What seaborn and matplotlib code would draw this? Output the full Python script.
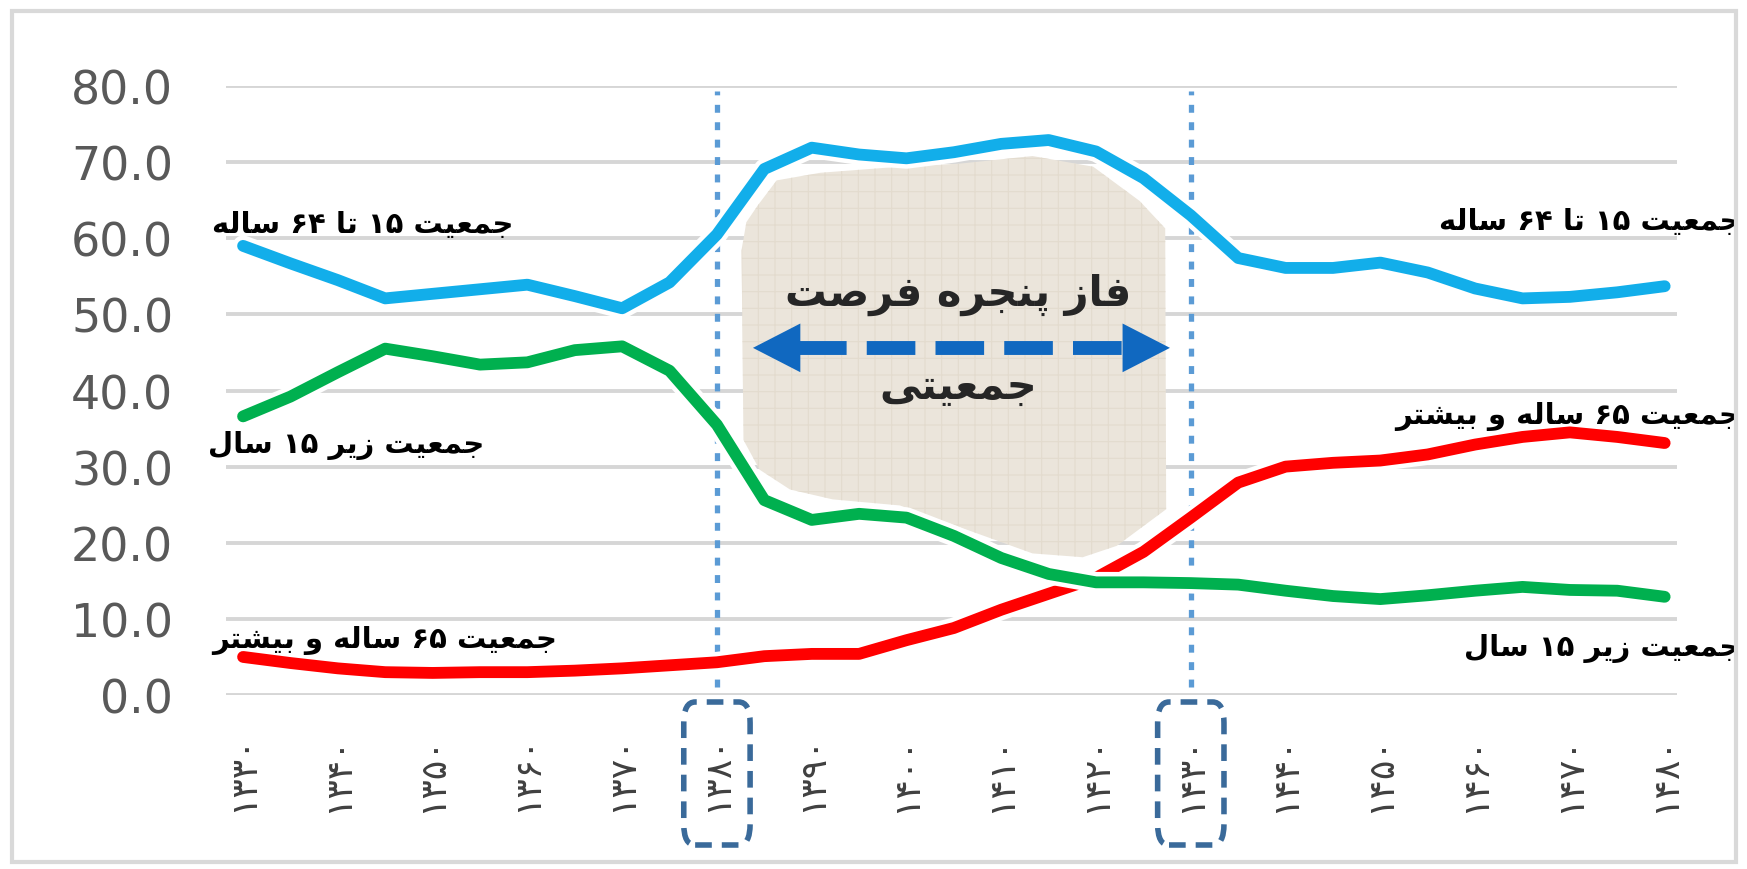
import matplotlib
matplotlib.use("Agg")
import matplotlib.pyplot as plt
import matplotlib.patheffects as pe
from matplotlib.patches import Polygon, FancyBboxPatch, Rectangle
import matplotlib.transforms as mtransforms
import seaborn as sns

# data, every 5 years
years = list(range(1330, 1485, 5))
age_15_64 = [59.0, 56.7, 54.5, 52.1, 52.7, 53.3, 53.9, 52.4, 50.8, 54.2, 60.5,
             69.1, 71.9, 71.0, 70.5, 71.3, 72.4, 72.9, 71.4, 67.9, 63.0,
             57.4, 56.1, 56.1, 56.8, 55.5, 53.4, 52.1, 52.3, 52.9, 53.7]
age_under_15 = [36.6, 39.2, 42.4, 45.5, 44.5, 43.4, 43.7, 45.3, 45.8, 42.6, 35.5,
                25.6, 23.0, 23.8, 23.3, 20.9, 18.0, 15.9, 14.8, 14.8, 14.7,
                14.5, 13.7, 13.0, 12.6, 13.1, 13.7, 14.2, 13.8, 13.7, 12.9]
age_65_plus = [5.0, 4.2, 3.5, 3.0, 2.9, 3.0, 3.0, 3.2, 3.5, 3.9, 4.3,
               5.1, 5.4, 5.4, 7.2, 8.8, 11.2, 13.3, 15.4, 18.8, 23.3,
               27.9, 30.0, 30.5, 30.8, 31.6, 32.9, 33.9, 34.5, 33.9, 33.1]

tick_years = list(range(1330, 1490, 10))
tick_labels = ["۱۳۳۰", "۱۳۴۰", "۱۳۵۰", "۱۳۶۰", "۱۳۷۰", "۱۳۸۰", "۱۳۹۰", "۱۴۰۰",
               "۱۴۱۰", "۱۴۲۰", "۱۴۳۰", "۱۴۴۰", "۱۴۵۰", "۱۴۶۰", "۱۴۷۰", "۱۴۸۰"]
window_years = [1380, 1430]

lbl_15_64 = "جمعیت ۱۵ تا ۶۴ ساله"
lbl_under_15 = "جمعیت زیر ۱۵ سال"
lbl_65 = "جمعیت ۶۵ ساله و بیشتر"
phase_top = "فاز پنجره فرصت"
phase_bottom = "جمعیتی"

# --- minimal persian shaping (matplotlib has no complex text layout) ---
FORMS = {
    "ا": ("\uFE8D", "\uFE8E", None, None),
    "ب": ("\uFE8F", "\uFE90", "\uFE91", "\uFE92"),
    "ت": ("\uFE95", "\uFE96", "\uFE97", "\uFE98"),
    "ج": ("\uFE9D", "\uFE9E", "\uFE9F", "\uFEA0"),
    "ر": ("\uFEAD", "\uFEAE", None, None),
    "ز": ("\uFEAF", "\uFEB0", None, None),
    "س": ("\uFEB1", "\uFEB2", "\uFEB3", "\uFEB4"),
    "ش": ("\uFEB5", "\uFEB6", "\uFEB7", "\uFEB8"),
    "ص": ("\uFEB9", "\uFEBA", "\uFEBB", "\uFEBC"),
    "ع": ("\uFEC9", "\uFECA", "\uFECB", "\uFECC"),
    "ف": ("\uFED1", "\uFED2", "\uFED3", "\uFED4"),
    "ل": ("\uFEDD", "\uFEDE", "\uFEDF", "\uFEE0"),
    "م": ("\uFEE1", "\uFEE2", "\uFEE3", "\uFEE4"),
    "ن": ("\uFEE5", "\uFEE6", "\uFEE7", "\uFEE8"),
    "ه": ("\uFEE9", "\uFEEA", "\uFEEB", "\uFEEC"),
    "و": ("\uFEED", "\uFEEE", None, None),
    "پ": ("\uFB56", "\uFB57", "\uFB58", "\uFB59"),
    "چ": ("\uFB7A", "\uFB7B", "\uFB7C", "\uFB7D"),
    "ی": ("\uFBFC", "\uFBFD", "\uFBFE", "\uFBFF"),
}
DIGITS = set("۰۱۲۳۴۵۶۷۸۹0123456789")


def fa(text):
    out = []
    n = len(text)
    for i, c in enumerate(text):
        if c not in FORMS:
            out.append(c)
            continue
        prev_j = i > 0 and text[i - 1] in FORMS and FORMS[text[i - 1]][2] is not None
        next_j = FORMS[c][2] is not None and i + 1 < n and text[i + 1] in FORMS
        iso, fin, ini, med = FORMS[c]
        if prev_j and next_j:
            out.append(med)
        elif prev_j:
            out.append(fin)
        elif next_j:
            out.append(ini)
        else:
            out.append(iso)
    vis = "".join(out)[::-1]
    # put digit runs back in left-to-right order
    res, run = [], []
    for c in vis:
        if c in DIGITS:
            run.append(c)
        else:
            if run:
                res.append("".join(run[::-1]))
                run = []
            res.append(c)
    if run:
        res.append("".join(run[::-1]))
    return "".join(res)


sns.set_theme(style="white")
plt.rcParams["font.family"] = ["DejaVu Sans"]
plt.rcParams["hatch.linewidth"] = 0.8

fig = plt.figure(figsize=(17.47, 8.70), dpi=100)
ax = fig.add_axes([226 / 1747, 1 - 696 / 870, (1677 - 226) / 1747, (696 - 87) / 870])

ax.set_xlim(1328.2, 1481.3)
ax.set_ylim(0, 80)
ax.set_yticks(range(0, 90, 10))
ax.set_yticklabels([f"{v:.1f}" for v in range(0, 90, 10)])
ax.yaxis.grid(True, color="#d6d6d6", lw=2.8)
ax.xaxis.grid(False)
ax.set_axisbelow(True)
for s in ax.spines.values():
    s.set_visible(False)
ax.tick_params(axis="y", length=0, pad=38, labelsize=33, labelcolor="#595959")
ax.set_xticks(tick_years)
ax.set_xticklabels(tick_labels, rotation=90, fontsize=26, color="#404040")
ax.tick_params(axis="x", length=0, pad=28)

# opportunity window patch
blob = [(1382.6, 58.4), (1383.1, 62.1), (1384.3, 64.3), (1386.3, 67.6), (1390.9, 68.6),
        (1399.3, 69.4), (1405.6, 69.8), (1413.3, 70.8), (1419.7, 69.4), (1424.6, 64.9),
        (1427.3, 61.3), (1427.4, 24.4), (1422.2, 19.6), (1418.6, 18.1), (1413.3, 18.6),
        (1406.4, 21.7), (1399.3, 24.9), (1392.2, 25.7), (1387.7, 27.0), (1384.5, 29.6),
        (1382.8, 33.5)]
ax.add_patch(Polygon(blob, closed=True, facecolor="#ebe5db", edgecolor="#e3dbce",
                     hatch="+", lw=0, zorder=1))

# dotted window limits
for yr in window_years:
    ax.plot([yr, yr], [1, 79.3], color="#5b9bd5", lw=3.8, ls=(0, (1.5, 1.8)), zorder=2)

halo = [pe.Stroke(linewidth=15, foreground="white"), pe.Normal()]
for vals, col in [(age_65_plus, "#ff0000"), (age_under_15, "#00b04f"), (age_15_64, "#12aeea")]:
    sns.lineplot(x=years, y=vals, ax=ax, color=col, lw=8.5, zorder=3,
                 path_effects=halo, solid_capstyle="round", solid_joinstyle="round")

# series labels
lab = dict(fontsize=21, fontweight="bold", color="black", ha="right", va="center", zorder=5)
ax.text(1358.5, 61.9, fa(lbl_15_64), **lab)
ax.text(1355.5, 32.9, fa(lbl_under_15), **lab)
ax.text(1363.1, 7.3, fa(lbl_65), **lab)
ax.text(1488.0, 62.3, fa(lbl_15_64), clip_on=False, **lab)
ax.text(1488.0, 6.3, fa(lbl_under_15), clip_on=False, **lab)
ax.text(1488.0, 36.7, fa(lbl_65), clip_on=False, **lab)

# arrow and phase text
ax.text(1405.5, 52.7, fa(phase_top), fontsize=30, fontweight="bold", ha="center", va="center", zorder=5)
ax.text(1405.5, 40.6, fa(phase_bottom), fontsize=30, fontweight="bold", ha="center", va="center", zorder=5)
arrow_col = "#1068c0"
ax.plot([1388.6, 1423.0], [45.6, 45.6], color=arrow_col, lw=10, ls=(0, (3.5, 1.45)),
        solid_capstyle="butt", dash_capstyle="butt", zorder=4)
ax.add_patch(Polygon([(1383.8, 45.6), (1388.8, 48.8), (1388.8, 42.4)], closed=True,
                     facecolor=arrow_col, lw=0, zorder=4))
ax.add_patch(Polygon([(1427.8, 45.6), (1422.8, 48.8), (1422.8, 42.4)], closed=True,
                     facecolor=arrow_col, lw=0, zorder=4))

# dashed boxes round the window years
tr = mtransforms.blended_transform_factory(ax.transData, fig.transFigure)
for yr in window_years:
    ax.add_patch(FancyBboxPatch((yr - 3.5, 1 - 846 / 870), 7.0, 143 / 870,
                                boxstyle="round,pad=0,rounding_size=1.2", transform=tr,
                                fill=False, edgecolor="#3a6a9a", lw=4, ls=(0, (3, 1.8)),
                                clip_on=False, mutation_aspect=0.02))

# outer frame
fig.patches.append(Rectangle((12 / 1747, 7 / 870), 1724 / 1747, 851 / 870, transform=fig.transFigure,
                             fill=False, edgecolor="#d9d9d9", lw=3))

fig.savefig("out.png", dpi=100)
